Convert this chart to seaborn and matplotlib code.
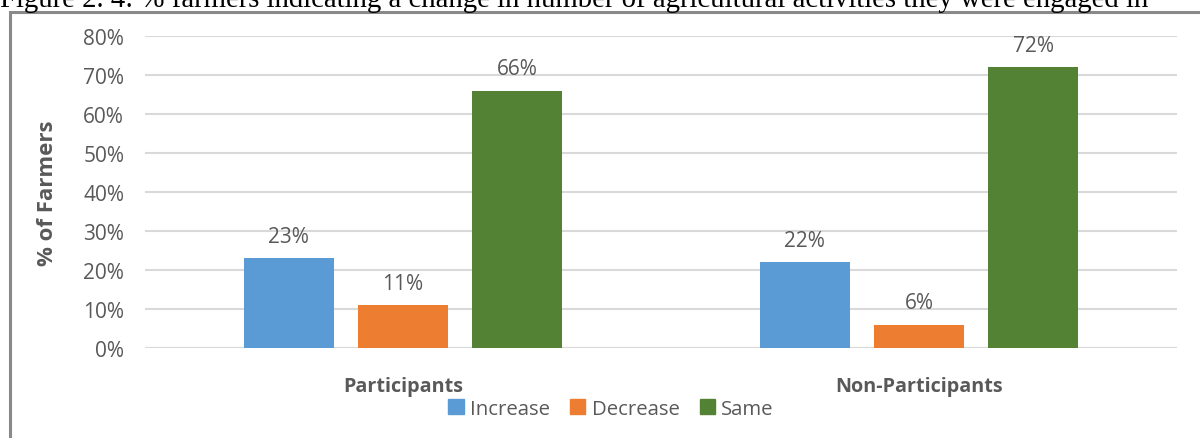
import pandas as pd
import matplotlib
matplotlib.use('Agg')
import matplotlib.pyplot as plt
import matplotlib.patches as mpatches
import seaborn as sns

# Данные графика
groups = ['Participants', 'Non-Participants']
statuses = ['Increase', 'Decrease', 'Same']
participants = [0.23, 0.11, 0.66]
non_participants = [0.22, 0.06, 0.72]
colors = ['#5B9BD5', '#ED7D31', '#548235']
yticks = [0, 0.1, 0.2, 0.3, 0.4, 0.5, 0.6, 0.7, 0.8]

df = pd.DataFrame({
    'group': [groups[0]] * 3 + [groups[1]] * 3,
    'status': statuses * 2,
    'value': participants + non_participants,
})

sns.set_theme(style='white')
plt.rcParams['font.family'] = ['Open Sans', 'DejaVu Sans']
text_color = '#595959'

W, H = 1200, 439
fig = plt.figure(figsize=(W / 100, H / 100), dpi=100)
ax = fig.add_axes([145 / W, 90 / H, (1177 - 145) / W, (349 - 37) / H])

sns.barplot(data=df, x='group', y='value', hue='status', palette=colors,
            width=0.664, gap=0.21, linewidth=0, saturation=1, ax=ax, legend=False)

ax.set_ylim(0, 0.8)
ax.set_yticks(yticks)
ax.set_yticklabels([f'{t:.0%}' for t in yticks])
ax.yaxis.grid(True, color='#D9D9D9', linewidth=1.5)
ax.set_axisbelow(True)
for s in ax.spines.values():
    s.set_visible(False)
ax.axhline(0, color='#D9D9D9', linewidth=1.5, zorder=0.5)
ax.tick_params(axis='y', length=0, labelsize=15, labelcolor=text_color, pad=15)
ax.tick_params(axis='x', length=0, labelsize=14.2, labelcolor=text_color, pad=20)
for lbl in ax.get_xticklabels():
    lbl.set_fontweight('bold')
ax.set_xlabel('')
ax.set_ylabel('% of Farmers', fontsize=16, fontweight='bold', color=text_color, labelpad=18)

# Подписи значений
for cont in ax.containers:
    vals = [b.get_height() for b in cont]
    ax.bar_label(cont, labels=[f'{v:.0%}' for v in vals], padding=8,
                 fontsize=15, color=text_color)

# Легенда
handles = [mpatches.Patch(color=c, label=s) for c, s in zip(colors, statuses)]
fig.legend(handles=handles, loc='center', bbox_to_anchor=(611 / W, 1 - 410 / H),
           ncol=3, frameon=False, handlelength=0.75, handleheight=0.75,
           handletextpad=0.3, columnspacing=1.0, fontsize=14.7, labelcolor=text_color)

# Рамка диаграммы
fig.add_artist(mpatches.Rectangle((9.5 / W, -0.1), 1.2, 1 - 12.5 / H + 0.1,
                                  transform=fig.transFigure, fill=False,
                                  edgecolor='#898989', linewidth=2.2))

# Подпись рисунка (обрезана сверху)
fig.text(0 / W, 1 - 7 / H,
         'Figure 2. 4: % farmers indicating a change in number of agricultural activities they were engaged in',
         family=['Liberation Serif', 'DejaVu Serif'], fontsize=20.7, color='black',
         ha='left', va='baseline')

fig.savefig('out.png', dpi=100)
